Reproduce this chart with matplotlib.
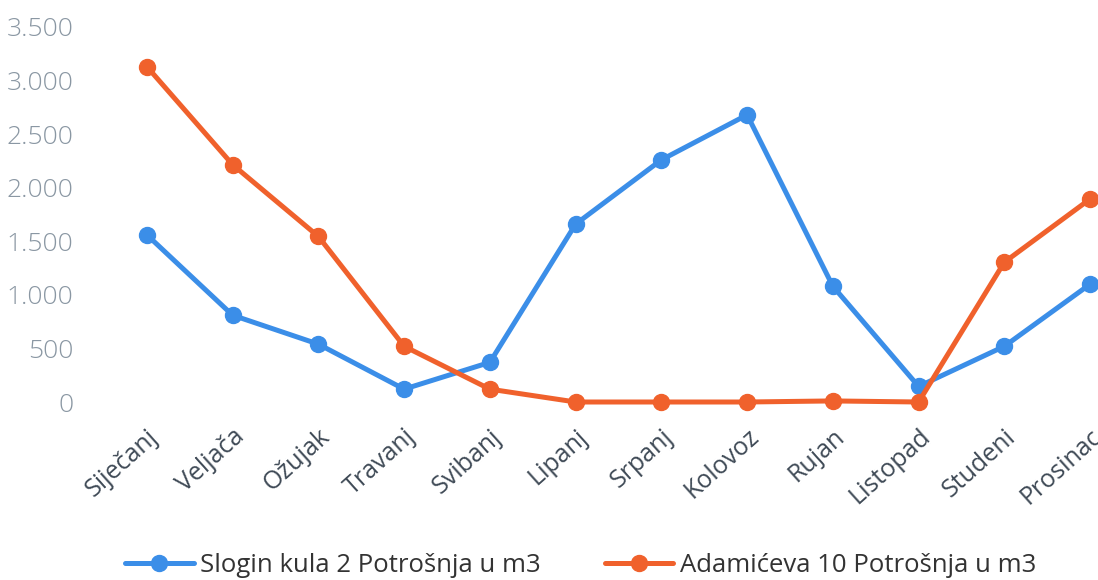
import matplotlib
matplotlib.use("Agg")
import matplotlib.pyplot as plt
from matplotlib.ticker import FuncFormatter

months = ["Siječanj", "Veljača", "Ožujak", "Travanj", "Svibanj", "Lipanj",
          "Srpanj", "Kolovoz", "Rujan", "Listopad", "Studeni", "Prosinac"]
slogin = [1560, 810, 540, 120, 370, 1660, 2260, 2680, 1080, 145, 520, 1100]
adamiceva = [3130, 2215, 1545, 520, 120, 0, 0, 0, 10, 0, 1305, 1895]
label_slogin = "Slogin kula 2 Potrošnja u m3"
label_adam = "Adamićeva 10 Potrošnja u m3"
yticks = [0, 500, 1000, 1500, 2000, 2500, 3000, 3500]

plt.rcParams['font.family'] = ['Open Sans', 'DejaVu Sans']

W, H = 1098, 580
fig = plt.figure(figsize=(W / 100, H / 100), dpi=100)
ax_left, ax_right = 104, 1133
ax_top, ax_bot = 27, 402
ax = fig.add_axes([ax_left / W, 1 - ax_bot / H, (ax_right - ax_left) / W, (ax_bot - ax_top) / H])

blue = "#3b8ee8"
orange = "#f0612c"
x = list(range(len(months)))
l1, = ax.plot(x, slogin, color=blue, lw=3.6, marker="o", ms=11.5, clip_on=False,
              solid_capstyle="round", label=label_slogin, zorder=3)
l2, = ax.plot(x, adamiceva, color=orange, lw=3.6, marker="o", ms=11.5, clip_on=False,
              solid_capstyle="round", label=label_adam, zorder=4)

ax.set_xlim(-0.5, 11.5)
ax.set_ylim(0, 3500)
ax.set_yticks(yticks)
ax.yaxis.set_major_formatter(FuncFormatter(lambda v, p: f"{int(v):,}".replace(",", ".")))
ax.set_xticks(x)
ax.set_xticklabels(months, rotation=42, ha="right", va="top", rotation_mode="anchor")
for s in ax.spines.values():
    s.set_visible(False)
ax.tick_params(axis="both", length=0)
ax.tick_params(axis="y", labelsize=19, labelcolor="#8a97a3", pad=22)
ax.tick_params(axis="x", labelsize=18, labelcolor="#3f4a56", pad=16)
for t in ax.get_yticklabels():
    t.set_fontweight("light")
for t in ax.get_xticklabels():
    t.set_x(t.get_position()[0])

fig.legend(handles=[l1, l2], loc="center", bbox_to_anchor=(581 / W, 1 - 565 / H),
           ncol=2, frameon=False, fontsize=18.5, handlelength=2.65, handletextpad=0.27,
           columnspacing=2.5, labelcolor="#333333", borderaxespad=0, borderpad=0)

fig.savefig("out.png", dpi=100)
